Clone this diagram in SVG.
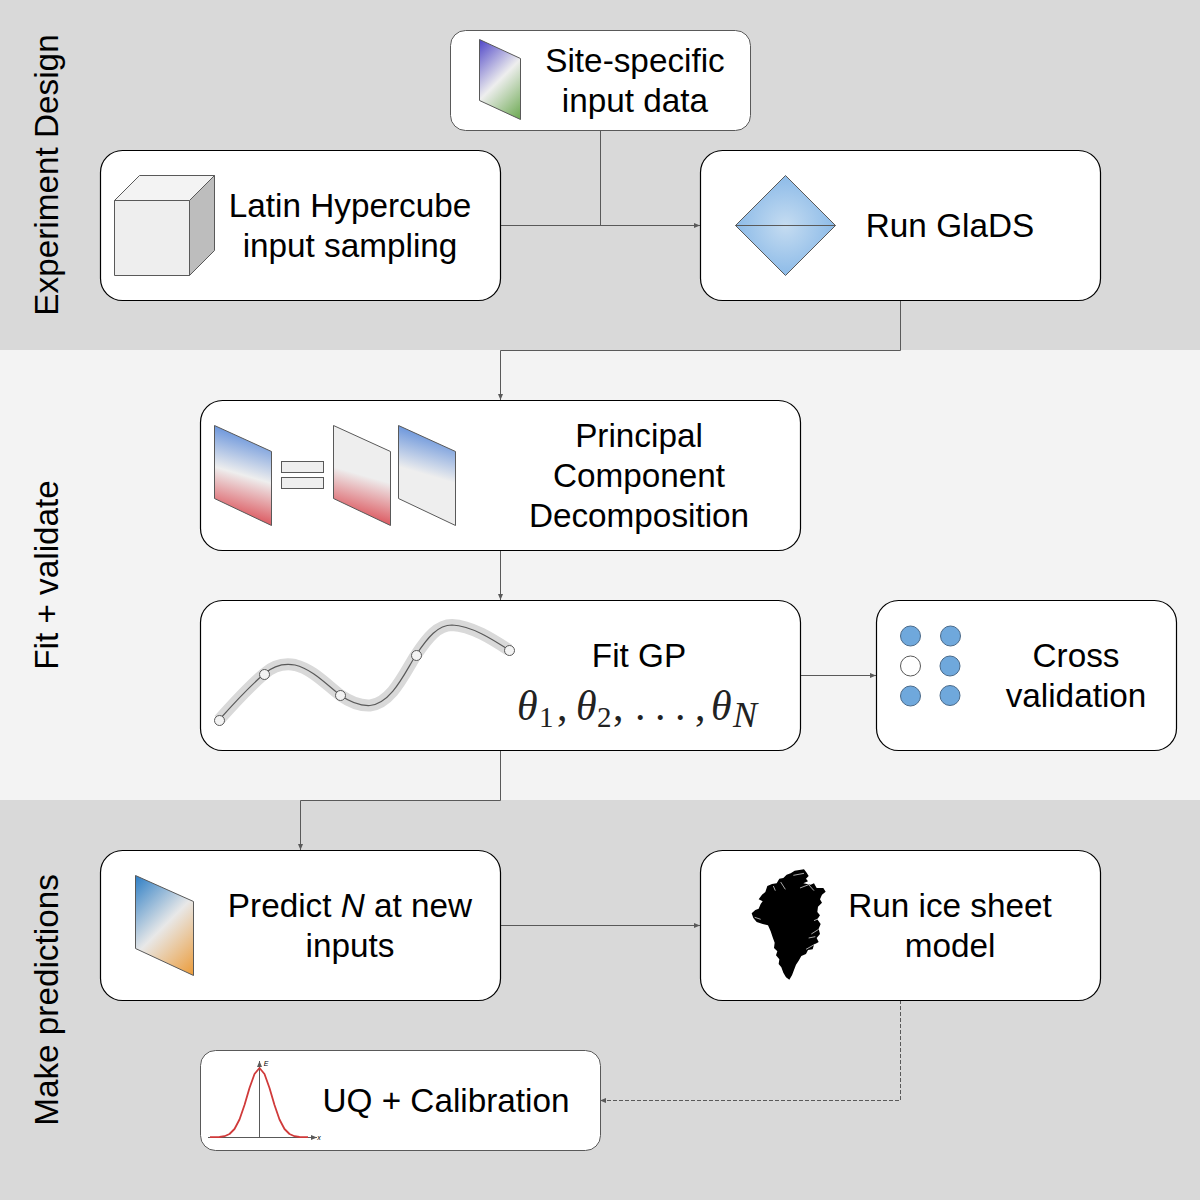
<svg xmlns="http://www.w3.org/2000/svg" width="1200" height="1200" viewBox="0 0 1200 1200">
<style>
text{font-family:"Liberation Sans",Arial,sans-serif;font-size:33.3px;fill:#000;text-anchor:middle}
.box{fill:#fff;stroke:#000;stroke-width:1.200}
.boxg{fill:#fff;stroke:#595959;stroke-width:1}
.ic{stroke:#595959;stroke-width:1}
.c{fill:none;stroke:#595959;stroke-width:1}
.math{font-family:"Liberation Serif","Times New Roman",serif;font-size:42px;fill:#222;text-anchor:start}
.sub{font-size:29px}
.subn{font-size:36px;font-style:italic}
.dot{fill:#6fa8dc;stroke:#4a6a8a;stroke-width:1}
.gpt{fill:#f3f3f3;stroke:#595959;stroke-width:1}
</style>
<defs>
<marker id="a" markerWidth="8" markerHeight="6" refX="6" refY="3" orient="auto" markerUnits="userSpaceOnUse"><path d="M0 0.500L6 3L0 5.500Z" fill="#595959"/></marker>
<linearGradient id="site" gradientUnits="userSpaceOnUse" x1="470" y1="49.500" x2="530" y2="109.500"><stop offset="0" stop-color="#4f46c8"/><stop offset=".5" stop-color="#eeeeee"/><stop offset="1" stop-color="#6aa84f"/></linearGradient>
<linearGradient id="pred" gradientUnits="userSpaceOnUse" x1="124.500" y1="885.500" x2="204.500" y2="965.500"><stop offset="0" stop-color="#2a7cc4"/><stop offset=".5" stop-color="#e8e8e8"/><stop offset="1" stop-color="#ec9a36"/></linearGradient>
<linearGradient id="br" gradientUnits="userSpaceOnUse" x1="254" y1="437" x2="232" y2="513"><stop offset="0" stop-color="#6d97dc"/><stop offset=".5" stop-color="#eeeeee"/><stop offset="1" stop-color="#dd5f66"/></linearGradient>
<linearGradient id="gr" gradientUnits="userSpaceOnUse" x1="373" y1="437" x2="351" y2="513"><stop offset=".5" stop-color="#eeeeee"/><stop offset="1" stop-color="#dd5f66"/></linearGradient>
<linearGradient id="bg" gradientUnits="userSpaceOnUse" x1="438" y1="437" x2="416" y2="513"><stop offset="0" stop-color="#6d97dc"/><stop offset=".5" stop-color="#eeeeee"/></linearGradient>
<radialGradient id="dia" cx=".5" cy=".5" r=".5"><stop offset="0" stop-color="#c5dcf1"/><stop offset="1" stop-color="#8dbbe8"/></radialGradient>
</defs>
<rect width="1200" height="350" fill="#d9d9d9"/>
<rect y="350" width="1200" height="450" fill="#f3f3f3"/>
<rect y="800" width="1200" height="400" fill="#d9d9d9"/>
<text transform="translate(58 175) rotate(-90)">Experiment Design</text>
<text transform="translate(58 575) rotate(-90)">Fit + validate</text>
<text transform="translate(58 1000) rotate(-90)">Make predictions</text>
<g id="connectors">
<path class="c" d="M600.500 130V225.500"/>
<path class="c" marker-end="url(#a)" d="M500 225.500H700"/>
<path class="c" marker-end="url(#a)" d="M900.500 300V350.500H500.500V400"/>
<path class="c" marker-end="url(#a)" d="M500.500 550V600"/>
<path class="c" marker-end="url(#a)" d="M800 675.500H876"/>
<path class="c" marker-end="url(#a)" d="M500.500 750V800.500H300.500V850"/>
<path class="c" marker-end="url(#a)" d="M500 925.500H700"/>
<path class="c" stroke-dasharray="4 2" marker-end="url(#a)" d="M900.500 1000V1100.500H600"/>
</g>
<g id="site-data">
<rect class="boxg" x="450.500" y="30.500" width="300" height="100" rx="15"/>
<path class="ic" fill="url(#site)" d="M479.500 39.500L520.500 58.500V119.500L479.500 100.500Z"/>
<text x="635" y="72">Site-specific</text><text x="635" y="112">input data</text>
</g>
<g id="latin-hypercube">
<rect class="box" x="100.500" y="150.500" width="400" height="150" rx="22"/>
<path class="ic" fill="#eeeeee" d="M114.500 200.500H189.500V275.500H114.500Z"/>
<path class="ic" fill="#f3f3f3" d="M114.500 200.500L139.500 175.500H214.500L189.500 200.500Z"/>
<path class="ic" fill="#bdbdbd" d="M189.500 200.500L214.500 175.500V250.500L189.500 275.500Z"/>
<text x="350" y="217">Latin Hypercube</text><text x="350" y="257">input sampling</text>
</g>
<g id="run-glads">
<rect class="box" x="700.500" y="150.500" width="400" height="150" rx="22"/>
<path class="ic" fill="url(#dia)" d="M785.500 175.500L835.500 225.500L785.500 275.500L735.500 225.500Z"/>
<path class="ic" d="M735.500 225.500H835.500"/>
<text x="950" y="237">Run GlaDS</text>
</g>
<g id="pca">
<rect class="box" x="200.500" y="400.500" width="600" height="150" rx="22"/>
<path class="ic" fill="url(#br)" d="M214.500 425.500L271.500 451.500V525.500L214.500 498.500Z"/>
<rect class="ic" x="281.500" y="461.500" width="42" height="11" fill="#eeeeee"/>
<rect class="ic" x="281.500" y="477.500" width="42" height="11" fill="#eeeeee"/>
<path class="ic" fill="url(#gr)" d="M333.500 425.500L390.500 451.500V525.500L333.500 498.500Z"/>
<path class="ic" fill="url(#bg)" d="M398.500 425.500L455.500 451.500V525.500L398.500 498.500Z"/>
<text x="639" y="447">Principal</text><text x="639" y="487">Component</text><text x="639" y="527">Decomposition</text>
</g>
<g id="fit-gp">
<rect class="box" x="200.500" y="600.500" width="600" height="150" rx="22"/>
<path fill="none" stroke="#d9d9d9" stroke-width="12" d="M219 720C235 702 250 686 264 674C273 666 284 663 295 665C312 669 327 685 340 695C350 702 360 706 370 705.500C392 703 405 672 416 655C428 637 438 625 452 625C472 626 492 639 509 650"/>
<path fill="none" stroke="#595959" stroke-width="1.200" d="M219 720C235 702 250 686 264 674C273 666 284 663 295 665C312 669 327 685 340 695C350 702 360 706 370 705.500C392 703 405 672 416 655C428 637 438 625 452 625C472 626 492 639 509 650"/>
<circle class="gpt" cx="219.500" cy="720.500" r="5"/><circle class="gpt" cx="264.500" cy="674.500" r="5"/><circle class="gpt" cx="340.500" cy="695.500" r="5"/><circle class="gpt" cx="416.500" cy="655.500" r="5"/><circle class="gpt" cx="509.500" cy="650.500" r="5"/>
<text x="639" y="667">Fit GP</text>
<text class="math" y="720"><tspan x="517" font-style="italic">θ</tspan><tspan class="sub" x="539" y="727">1</tspan><tspan x="557" y="720">,</tspan><tspan x="576" font-style="italic">θ</tspan><tspan class="sub" x="597" y="727">2</tspan><tspan x="613" y="720">,</tspan><tspan x="635">.</tspan><tspan x="655">.</tspan><tspan x="675">.</tspan><tspan x="695">,</tspan><tspan x="711" font-style="italic">θ</tspan><tspan class="subn" x="733" y="727">N</tspan></text>
</g>
<g id="cross-validation">
<rect class="box" x="876.500" y="600.500" width="300" height="150" rx="22"/>
<circle class="dot" cx="910.500" cy="636" r="10"/><circle class="dot" cx="950.500" cy="636" r="10"/>
<circle cx="910.500" cy="666" r="10" fill="#fff" stroke="#595959"/><circle class="dot" cx="950" cy="666" r="10"/>
<circle class="dot" cx="910.500" cy="696" r="10"/><circle class="dot" cx="950" cy="695.500" r="10"/>
<text x="1076" y="667">Cross</text><text x="1076" y="707">validation</text>
</g>
<g id="predict-n">
<rect class="box" x="100.500" y="850.500" width="400" height="150" rx="22"/>
<path class="ic" fill="url(#pred)" d="M135.500 875.500L193.500 901.500V975.500L135.500 948.500Z"/>
<text x="350" y="917">Predict <tspan font-style="italic">N</tspan> at new</text><text x="350" y="957">inputs</text>
</g>
<g id="ice-sheet">
<rect class="box" x="700.500" y="850.500" width="400" height="150" rx="22"/>
<g transform="translate(740 860) scale(.3333)">
<path fill="#000" d="M192 28L200 38L206 48L198 56L204 64L190 70L212 74L222 70L230 84L250 84L257 95L246 104L240 118L246 128L234 140L232 156L240 166L232 178L242 192L236 206L240 222L230 234L236 246L222 254L218 268L204 270L198 282L184 288L176 302L168 314L162 330L156 346L148 359L138 352L130 338L124 322L116 312L118 298L108 286L112 274L102 264L104 248L98 232L92 214L84 196L68 192L50 186L40 174L35 160L46 150L56 146L62 132L68 124L56 118L66 104L76 96L82 78L96 72L110 70L118 56L130 54L140 44L152 40L164 32L178 30Z"/>
<path fill="none" stroke="#fff" stroke-width="2" d="M160 46L192 40M180 84L206 74L222 92M122 66L136 88M100 78L106 92M198 268L226 252M214 222L236 208M222 182L236 176M206 234L226 230M44 172L62 178"/>
</g>
<text x="950" y="917">Run ice sheet</text><text x="950" y="957">model</text>
</g>
<g id="uq-calibration">
<rect class="boxg" x="200.500" y="1050.500" width="400" height="100" rx="15"/>
<path fill="none" stroke="#595959" stroke-width="1" marker-end="url(#a)" d="M208 1137.500H317"/>
<path fill="none" stroke="#595959" stroke-width="1" marker-end="url(#a)" d="M259.500 1137.500V1061"/>
<path fill="none" stroke="#d03a3a" stroke-width="1.800" stroke-linejoin="round" d="M210 1137.200L219.500 1137L224.500 1136.200L229.500 1134L234.500 1129L239.500 1119.500L244.500 1105L249.500 1088L254.500 1074L259.500 1068L264.500 1074L269.500 1088L274.500 1105L279.500 1119.500L284.500 1129L289.500 1134L294.500 1136.200L299.500 1137L308 1137.200"/>
<text x="266" y="1066" style="font-size:7px;font-style:italic">E</text>
<text x="319" y="1140" style="font-size:7px;font-style:italic">x</text>
<text x="446" y="1112">UQ + Calibration</text>
</g>
</svg>
